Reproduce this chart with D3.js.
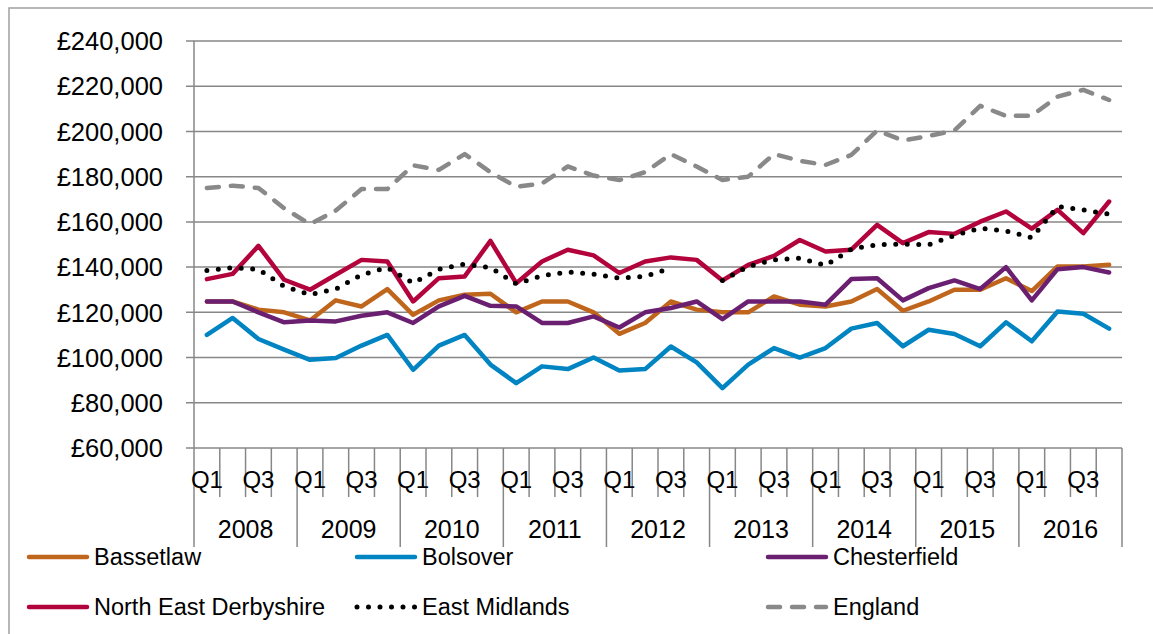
<!DOCTYPE html>
<html>
<head>
<meta charset="utf-8">
<script src="https://cdn.jsdelivr.net/npm/d3@7"></script>
<style>
  body { margin: 0; background: #fff; }
  svg { display: block; font-family: "Liberation Sans", Arial, sans-serif; }
</style>
</head>
<body>
<svg id="chart" width="1153" height="634"></svg>
<script>
// quarters 2008 Q1 .. 2016 Q4
const years = ['2008', '2009', '2010', '2011', '2012', '2013', '2014', '2015', '2016'];
const quarterNames = ['Q1', 'Q2', 'Q3', 'Q4'];
const yTicks = [60000, 80000, 100000, 120000, 140000, 160000, 180000, 200000, 220000, 240000];

// values (£)
const bassetlaw = [124800, 124800, 121200, 120000, 116400, 125300, 122600, 130300, 118900, 125300, 127800, 128200,
                   120000, 124800, 124800, 120000, 110500, 115300, 124800, 121200, 120000, 120000, 127000, 123400,
                   122600, 124800, 130300, 120700, 124800, 130000, 130000, 135100, 129400, 140300, 140300, 141000];
const bolsover = [110000, 117500, 108200, 103500, 99000, 99800, 105300, 110000, 94600, 105300, 110000, 96900,
                  88700, 96100, 94900, 100000, 94300, 94900, 104900, 97900, 86500, 96900, 104200, 100000,
                  104200, 112800, 115300, 105000, 112300, 110400, 105000, 115600, 107200, 120400, 119400, 112800];
const chesterfield = [124800, 124800, 120000, 115600, 116400, 116000, 118500, 120000, 115300, 122600, 127300, 122900,
                      122600, 115300, 115300, 118200, 113300, 120000, 121900, 124800, 117000, 124800, 124800, 124800,
                      123400, 134700, 135100, 125300, 130700, 134100, 130300, 140000, 125300, 139100, 140000, 137600];
const neDerbyshire = [134700, 137000, 149400, 134400, 130000, 136600, 143200, 142500, 124800, 135100, 135900, 151600,
                      132900, 142500, 147700, 145200, 137400, 142500, 144300, 143200, 134100, 141000, 145000, 152000,
                      146900, 147700, 158700, 150600, 155500, 154700, 160100, 164600, 157000, 165300, 155000, 169000];
const eastMidlands = [138500, 139800, 139000, 131500, 127800, 130300, 136600, 139800, 132900, 139000, 141300, 139800,
                      132600, 136200, 137800, 136900, 135100, 135900, 139600, null, 134100, 140300, 143200, 144000,
                      140700, 148000, 149900, 150200, 149900, 154000, 157200, 156000, 153000, 166800, 165300, 163400];
const england = [175000, 176000, 175000, 166000, 159000, 165000, 174500, 174500, 185000, 183000, 190000, 182000,
                 175500, 177000, 184500, 180500, 178500, 182000, 190000, 184500, 178500, 180000, 190000, 187000,
                 185200, 189600, 200400, 196000, 198000, 200400, 211300, 206900, 207000, 215400, 218400, 213900];

const seriesList = [
  { name: 'Bassetlaw', values: bassetlaw, color: '#C0661C', dash: null },
  { name: 'Bolsover', values: bolsover, color: '#0084C2', dash: null },
  { name: 'Chesterfield', values: chesterfield, color: '#6A1F71', dash: null },
  { name: 'North East Derbyshire', values: neDerbyshire, color: '#B2033C', dash: null },
  { name: 'East Midlands', values: eastMidlands, color: '#000000', dash: 'dot' },
  { name: 'England', values: england, color: '#898989', dash: 'dash' }
];

const quarters = [];
years.forEach(y => quarterNames.forEach(q => quarters.push({ key: y + q, year: y, q: q })));

const svg = d3.select('#chart');
const gridColor = '#878787';

// outer frame (runs off the right and bottom of the picture)
svg.append('rect')
  .attr('x', 9).attr('y', 8)
  .attr('width', 1170).attr('height', 660)
  .attr('fill', 'none')
  .attr('stroke', '#a0a0a0')
  .attr('stroke-width', 1.5);

const x = d3.scaleBand()
  .domain(quarters.map(d => d.key))
  .range([194, 1122]);

const y = d3.scaleLinear()
  .domain([60000, 240000])
  .range([448, 41]);

const fmt = v => '£' + d3.format(',')(v);

// horizontal gridlines + y ticks
yTicks.forEach(t => {
  svg.append('line')
    .attr('x1', 186).attr('x2', x.range()[1])
    .attr('y1', y(t)).attr('y2', y(t))
    .attr('stroke', gridColor).attr('stroke-width', 1.5);
  svg.append('text')
    .attr('x', 163).attr('y', y(t))
    .attr('dy', '0.36em')
    .attr('text-anchor', 'end')
    .attr('font-size', 25.5)
    .text(fmt(t));
});

// y axis line
svg.append('line')
  .attr('x1', 194).attr('x2', 194)
  .attr('y1', y(240000)).attr('y2', y(60000))
  .attr('stroke', gridColor).attr('stroke-width', 1.5);

// x axis ticks: short between quarters, long between years
const bounds = quarters.map(d => x(d.key)).concat([x.range()[1]]);
bounds.forEach((bx, i) => {
  svg.append('line')
    .attr('x1', bx).attr('x2', bx)
    .attr('y1', y(60000))
    .attr('y2', i % 4 === 0 ? 547 : 497)
    .attr('stroke', gridColor).attr('stroke-width', 1.5);
});

// quarter labels (only Q1 and Q3 fit)
svg.append('g').selectAll('text')
  .data(quarters.filter(d => d.q === 'Q1' || d.q === 'Q3'))
  .join('text')
  .attr('x', d => x(d.key) + x.bandwidth() / 2)
  .attr('y', 488)
  .attr('text-anchor', 'middle')
  .attr('font-size', 24)
  .text(d => d.q);

// year labels
svg.append('g').selectAll('text')
  .data(years)
  .join('text')
  .attr('x', d => x(d + 'Q1') + x.bandwidth() * 2)
  .attr('y', 538)
  .attr('text-anchor', 'middle')
  .attr('font-size', 25)
  .text(d => d);

function styleLine(sel, s) {
  sel.attr('fill', 'none')
    .attr('stroke', s.color)
    .attr('stroke-linejoin', 'round');
  if (s.dash === 'dot') {
    sel.attr('stroke-width', 5).attr('stroke-linecap', 'round').attr('stroke-dasharray', '0,11.5');
  } else if (s.dash === 'dash') {
    sel.attr('stroke-width', 4.5).attr('stroke-linecap', 'round').attr('stroke-dasharray', '12,12');
  } else {
    sel.attr('stroke-width', 4.5).attr('stroke-linecap', 'round');
  }
}

const line = d3.line()
  .defined(d => d.v != null)
  .x(d => x(d.key) + x.bandwidth() / 2)
  .y(d => y(d.v));

seriesList.forEach(s => {
  const pts = quarters.map((q, i) => ({ key: q.key, v: s.values[i] }));
  svg.append('path')
    .attr('d', line(pts))
    .call(styleLine, s);
});

// legend
const legendPos = [
  { x: 27, y: 557 }, { x: 355, y: 557 }, { x: 766, y: 557 },
  { x: 27, y: 607 }, { x: 355, y: 607 }, { x: 766, y: 607 }
];
seriesList.forEach((s, i) => {
  const p = legendPos[i];
  svg.append('line')
    .attr('x1', p.x + 2).attr('x2', p.x + 60)
    .attr('y1', p.y).attr('y2', p.y)
    .call(styleLine, s);
  svg.append('text')
    .attr('x', p.x + 67).attr('y', p.y)
    .attr('dy', '0.36em')
    .attr('font-size', 23.5)
    .text(s.name);
});
</script>
</body>
</html>
